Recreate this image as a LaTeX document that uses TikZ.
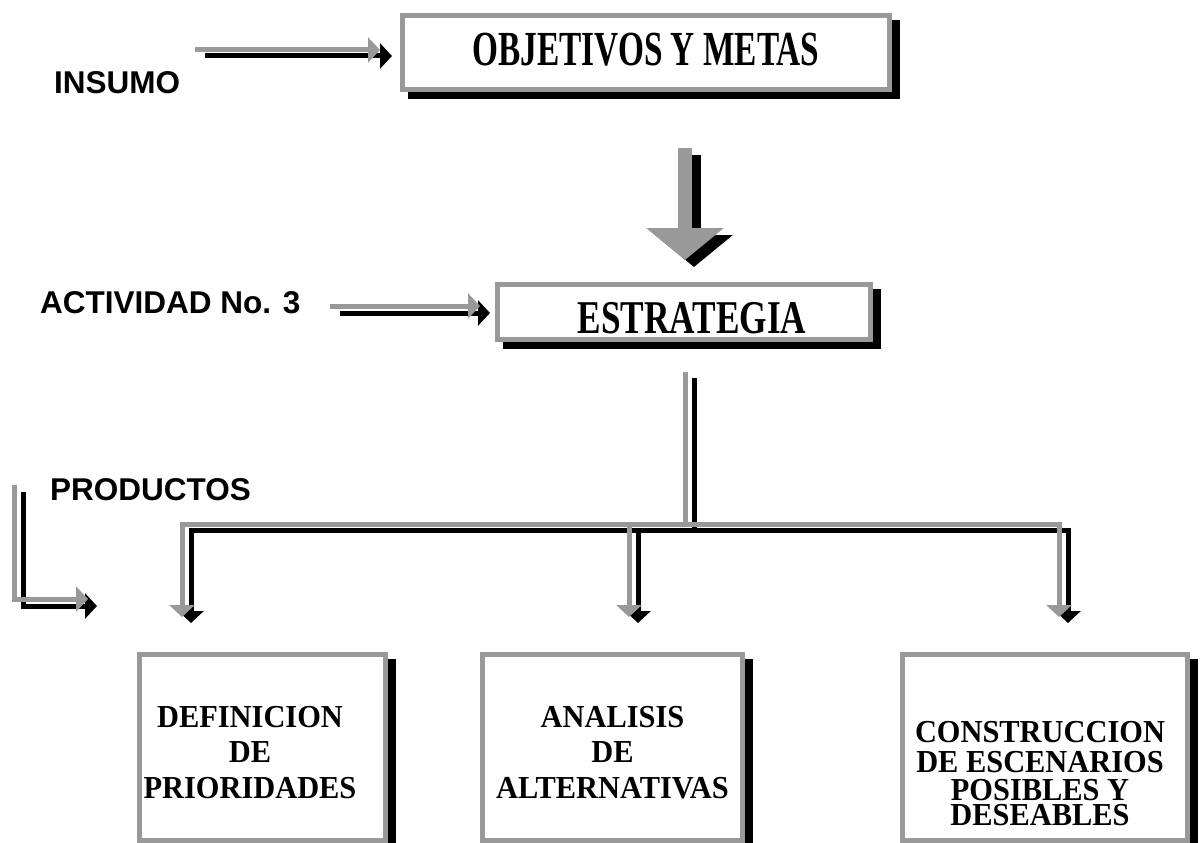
\documentclass[tikz,border=0pt]{standalone}
\usepackage{fontspec}
\setmainfont{Liberation Serif}
\newfontfamily\labfont{Liberation Sans}
\newfontfamily\titA{Liberation Serif}[FakeStretch=0.68]
\newfontfamily\titB{Liberation Serif}[FakeStretch=0.75]
\newfontfamily\titC{Liberation Serif}[FakeStretch=0.95]
\usetikzlibrary{arrows.meta}
\definecolor{boxgray}{RGB}{153,153,153}
\newcommand\shadowedbox[5]{% name, cx, cy, outer w, outer h
  \fill[black] (#2-#4/2+8,#3-#5/2+7) rectangle (#2+#4/2+8,#3+#5/2+7);
  \node[gbox, minimum width=#4-5, minimum height=#5-5] (#1) at (#2,#3) {};
}
\begin{document}
\begin{tikzpicture}[x=1pt,y=-1pt,
  gbox/.style={draw=boxgray, line width=5pt, fill=white, inner sep=0pt},
  lab/.style={font=\labfont\bfseries\fontsize{31.5}{31.5}\selectfont, anchor=base west, inner sep=0pt},
  tA/.style={font=\titA\bfseries\fontsize{49}{49}\selectfont, anchor=base, inner sep=0pt},
  tB/.style={font=\titB\bfseries\fontsize{47}{47}\selectfont, anchor=base, inner sep=0pt},
  tC/.style={font=\titC\bfseries\fontsize{32}{32}\selectfont, anchor=base, inner sep=0pt},
  garr/.style={draw=boxgray, line width=5pt, -{Triangle[length=12pt,width=25pt]}},
  barr/.style={draw=black, line width=5pt, -{Triangle[length=12pt,width=25pt]}},
  gline/.style={draw=boxgray, line width=5pt},
  bline/.style={draw=black, line width=5pt},
  gbig/.style={draw=boxgray, line width=14pt, -{Triangle[length=32pt,width=76pt]}},
  bbig/.style={draw=black, line width=14pt, -{Triangle[length=32pt,width=76pt]}}
]
\fill[white] (0,0) rectangle (1203,843);
\useasboundingbox (0,0) rectangle (1203,843);

% boxes
\shadowedbox{obj}{646}{52.5}{492}{79}
\shadowedbox{est}{684}{312}{378}{60}
\shadowedbox{def}{262.5}{747.5}{251}{191}
\shadowedbox{ana}{612.5}{747.5}{265}{191}
\shadowedbox{con}{1045}{747.5}{290}{191}

% box texts
\node[tA] (objt) at (646,66) {OBJETIVOS Y METAS};
\node[tB] (estt) at (692,333) {ESTRATEGIA};
\node[tC] (def1) at (250,727) {DEFINICION};
\node[tC] (def2) at (250,762) {DE};
\node[tC] (def3) at (250,798) {PRIORIDADES};
\node[tC] (ana1) at (ana.center |- 0,727) {ANALISIS};
\node[tC] (ana2) at (ana.center |- 0,762) {DE};
\node[tC] (ana3) at (ana.center |- 0,798) {ALTERNATIVAS};
\node[tC] (con1) at (1040,742) {CONSTRUCCION};
\node[tC] (con2) at (1040,772) {DE ESCENARIOS};
\node[tC] (con3) at (1040,800) {POSIBLES Y};
\node[tC] (con4) at (1040,825) {DESEABLES};

% side labels
\node[lab] (insumo) at (54,94) {INSUMO};
\node[lab] (activ) at (40,313) {ACTIVIDAD No. 3};
\node[lab] (prod) at (50,500) {PRODUCTOS};

% connector end points
\coordinate (inG1) at (195,50);  \coordinate (inG2) at (380,50);
\coordinate (inB1) at (205,56);  \coordinate (inB2) at (392,56);
\coordinate (acG1) at (330,306); \coordinate (acG2) at (480,306);
\coordinate (acB1) at (340,313); \coordinate (acB2) at (490,313);
\coordinate (prG1) at (14,485);  \coordinate (prG2) at (88,599);
\coordinate (prB1) at (23,492);  \coordinate (prB2) at (97,606);
\coordinate (bgG1) at (685,148); \coordinate (bgG2) at (685,260);
\coordinate (bgB1) at (694,155); \coordinate (bgB2) at (694,267);
\coordinate (trG0) at (685,372); \coordinate (trGj) at (685,524);
\coordinate (trB0) at (694,378); \coordinate (trBj) at (694,530);
\coordinate (gL) at (182,617); \coordinate (gMj) at (629,524); \coordinate (gM) at (629,617); \coordinate (gR) at (1059,617);
\coordinate (bL) at (191,623); \coordinate (bMj) at (638,530); \coordinate (bM) at (638,623); \coordinate (bR) at (1068,623);

% black (shadow) connectors
\draw[barr] (inB1) -- (inB2);
\draw[barr] (acB1) -- (acB2);
\draw[barr] (prB1) |- (prB2);
\draw[bbig] (bgB1) -- (bgB2);
\draw[bline] (trB0) -- (trBj);
\draw[barr] (trBj) -| (bL);
\draw[barr] (trBj) -| (bR);
\draw[barr] (bMj) -- (bM);

% gray connectors
\draw[garr] (inG1) -- (inG2);
\draw[garr] (acG1) -- (acG2);
\draw[garr] (prG1) |- (prG2);
\draw[gbig] (bgG1) -- (bgG2);
\draw[gline] (trG0) -- (trGj);
\draw[garr] (trGj) -| (gL);
\draw[garr] (trGj) -| (gR);
\draw[garr] (gMj) -- (gM);
\end{tikzpicture}
\end{document}
